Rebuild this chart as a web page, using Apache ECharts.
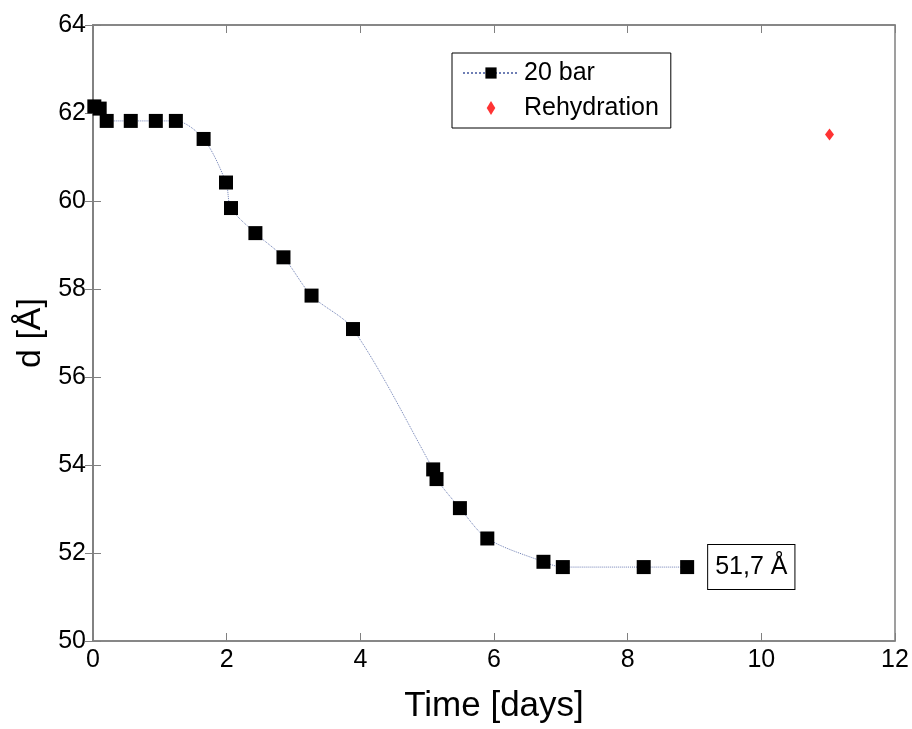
<!DOCTYPE html>
<html><head><meta charset="utf-8">
<script src="https://cdn.jsdelivr.net/npm/echarts@6/dist/echarts.min.js"></script>
<style>html,body{margin:0;padding:0;background:#fff}#c{width:912px;height:729px}</style>
</head><body><div id="c"></div>
<script>
const timeDays = [0.02, 0.1, 0.205, 0.565, 0.94, 1.24, 1.655, 1.99, 2.065, 2.43, 2.85, 3.27, 3.89, 5.09, 5.14, 5.49, 5.90, 6.74, 7.03, 8.24, 8.89];
const dValues = [62.15, 62.1, 61.82, 61.82, 61.82, 61.82, 61.41, 60.42, 59.84, 59.27, 58.72, 57.85, 57.09, 53.9, 53.68, 53.02, 52.33, 51.8, 51.68, 51.68, 51.68];
const rehydTime = [11.02];
const rehydD = [61.51];
const xTicks = [0, 2, 4, 6, 8, 10, 12];
const yTicks = [50, 52, 54, 56, 58, 60, 62, 64];
const annotationText = '51,7 Å';

const font = 'Liberation Sans, Arial, sans-serif';
const main = timeDays.map((t, i) => {
  const p = { value: [t, dValues[i]] };
  if (i === timeDays.length - 1) {
    p.label = {
      show: true, position: 'right', distance: 14, formatter: annotationText,
      color: '#000', fontSize: 25, fontFamily: font, lineHeight: 27,
      borderColor: '#000', borderWidth: 1, padding: [9, 7, 8, 7], backgroundColor: '#fff'
    };
  }
  return p;
});
const axisGray = '#808080';
const chart = echarts.init(document.getElementById('c'), null, { renderer: 'canvas' });
chart.setOption({
  animation: false,
  backgroundColor: '#fff',
  textStyle: { fontFamily: font },
  grid: { left: 93, right: 17, top: 25, bottom: 72, show: true, borderColor: axisGray, borderWidth: 1.5 },
  legend: {
    orient: 'vertical', left: 452, top: 53,
    borderColor: '#000', borderWidth: 1, padding: [6, 12, 6, 10],
    itemWidth: 56, itemHeight: 14, itemGap: 7,
    symbolKeepAspect: true,
    textStyle: { fontSize: 25, color: '#000', fontFamily: font, lineHeight: 28 },
    data: [
      { name: '20 bar' },
      { name: 'Rehydration', icon: 'path://M5,0L9,6.5L5,13L1,6.5Z' }
    ]
  },
  xAxis: [{
    type: 'value', min: xTicks[0], max: xTicks[xTicks.length - 1], interval: 2,
    name: 'Time [days]', nameLocation: 'middle', nameGap: 48,
    nameTextStyle: { fontSize: 35, color: '#000', fontFamily: font },
    axisLine: { show: true, lineStyle: { color: axisGray, width: 1.5 } },
    axisTick: { show: true, inside: true, length: 8, lineStyle: { color: axisGray } },
    axisLabel: { fontSize: 25, color: '#000', margin: 7, fontFamily: font },
    splitLine: { show: false }
  }, {
    type: 'value', position: 'top', min: 0, max: 12, interval: 2,
    axisLine: { show: true, lineStyle: { color: axisGray, width: 1.5 } },
    axisTick: { show: true, inside: true, length: 8, lineStyle: { color: axisGray } },
    axisLabel: { show: false }, splitLine: { show: false }
  }],
  yAxis: [{
    type: 'value', min: yTicks[0], max: yTicks[yTicks.length - 1], interval: 2,
    name: 'd [Å]', nameLocation: 'middle', nameGap: 45, nameRotate: 90,
    nameTextStyle: { fontSize: 34, color: '#000', fontFamily: font },
    axisLine: { show: true, lineStyle: { color: axisGray, width: 1.5 } },
    axisTick: { show: true, inside: true, length: 8, lineStyle: { color: axisGray } },
    axisLabel: { fontSize: 25, color: '#000', margin: 7, fontFamily: font },
    splitLine: { show: false }
  }, {
    type: 'value', position: 'right', min: 50, max: 64, interval: 2,
    axisLine: { show: true, lineStyle: { color: axisGray, width: 1.5 } },
    axisTick: { show: true, inside: true, length: 8, lineStyle: { color: axisGray } },
    axisLabel: { show: false }, splitLine: { show: false }
  }],
  series: [{
    name: '20 bar', type: 'line', data: main, smooth: 0.3,
    symbol: 'rect', symbolSize: 14,
    itemStyle: { color: '#000' },
    lineStyle: { color: '#6f7fb5', width: 1, type: 'dotted' }
  }, {
    name: 'Rehydration', type: 'scatter',
    data: rehydTime.map((t, i) => [t, rehydD[i]]),
    symbol: 'diamond', symbolSize: [9, 12],
    itemStyle: { color: '#ff0000' }
  }]
});
</script></body></html>
